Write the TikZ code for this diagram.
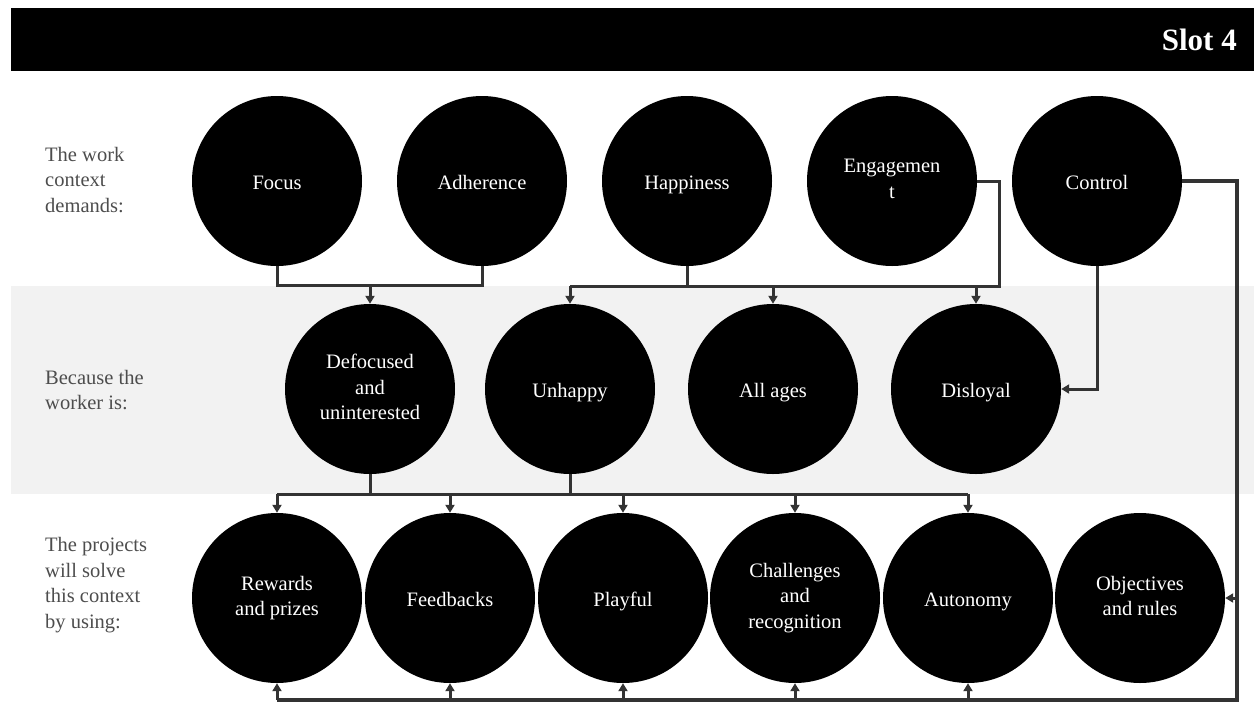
\documentclass[tikz,border=0pt]{standalone}
\usepackage{fontspec}
\setmainfont{Liberation Serif}
\usetikzlibrary{arrows.meta}
\definecolor{band}{HTML}{F2F2F2}
\definecolor{lnc}{HTML}{333333}
\definecolor{lbl}{HTML}{4D4D4D}
\tikzset{
  bub/.style={circle, fill=black, text=white, minimum size=170pt, inner sep=0pt, align=center,
    font=\fontsize{20.5}{25.5}\selectfont,
    execute at begin node={\rule{0pt}{21pt}}, execute at end node={\rule[-4pt]{0pt}{4pt}}},
  ln/.style={draw=lnc, line width=3pt},
  arr/.style={draw=lnc, line width=3pt, -{Triangle[length=8pt,width=9pt]}},
  lab/.style={anchor=west, align=left, text=lbl, font=\fontsize{20.5}{25.5}\selectfont, inner sep=0pt}
}
\begin{document}
\begin{tikzpicture}[x=1pt,y=-1pt]
\useasboundingbox (0,0) rectangle (1254,705);
% header and band
\fill[black] (11,8) rectangle (1254,71);
\node[anchor=east, text=white, font=\bfseries\fontsize{31}{31}\selectfont, inner sep=0pt] (slot) at (1237,40) {Slot 4};
\fill[band] (11,286) rectangle (1254,494);
% row labels
\node[lab] (l1) at (45,180) {The work\\context\\demands:};
\node[lab] (l2) at (45,390) {Because the\\worker is:};
\node[lab] (l3) at (45,585) {The projects\\will solve\\this context\\by using:};
% top row
\node[bub] (focus) at (277,181) {Focus};
\node[bub] (adh) at (482,181) {Adherence};
\node[bub] (hap) at (687,181) {Happiness};
\node[bub] (eng) at (892,181) {Engagemen\\t};
\node[bub] (ctl) at (1097,181) {Control};
% middle row
\node[bub] (def) at (370,389) {Defocused\\and\\uninterested};
\node[bub] (unh) at (570,389) {Unhappy};
\node[bub] (all) at (773,389) {All ages};
\node[bub] (dis) at (976,389) {Disloyal};
% bottom row
\node[bub] (rew) at (277,598) {Rewards\\and prizes};
\node[bub] (fee) at (450,598) {Feedbacks};
\node[bub] (pla) at (623,598) {Playful};
\node[bub] (cha) at (795,598) {Challenges\\and\\recognition};
\node[bub] (aut) at (968,598) {Autonomy};
\node[bub] (obj) at (1140,598) {Objectives\\and rules};
% junction coordinates
\coordinate (jA) at (370,285);
\coordinate (jBl) at (570,286);
\coordinate (jBr) at (999,286);
\coordinate (jC) at (277,494);
\coordinate (jR) at (1237,700);
\coordinate (jL) at (277,700);
% focus + adherence -> defocused
\draw[ln] (focus.south) |- (jA) -| (adh.south);
\draw[arr] (jA) -- (def.north);
% happiness + engagement -> unhappy, all ages, disloyal
\draw[ln] (hap.south) -- (hap.south |- jBl);
\draw[ln] (eng.east) -| (jBr) -- (jBl);
\draw[arr] (jBl) -- (unh.north);
\draw[arr] (all.north |- jBl) -- (all.north);
\draw[arr] (dis.north |- jBl) -- (dis.north);
% control -> disloyal
\draw[arr] (ctl.south) |- (dis.east);
% defocused + unhappy -> bottom row
\draw[ln] (def.south) -- (def.south |- jC);
\draw[ln] (unh.south) -- (unh.south |- jC);
\draw[ln] (jC) -- (aut.north |- jC);
\foreach \n in {rew,fee,pla,cha,aut}{
  \draw[arr] (\n.north |- jC) -- (\n.north);
}
% control -> objectives and bottom row
\draw[ln, line width=3.6pt] (ctl.east) -| (jR) -- (jL);
\draw[arr] (obj.east -| jR) -- (obj.east);
\foreach \n in {rew,fee,pla,cha,aut}{
  \draw[arr] (\n.south |- jR) -- (\n.south);
}
\end{tikzpicture}
\end{document}
